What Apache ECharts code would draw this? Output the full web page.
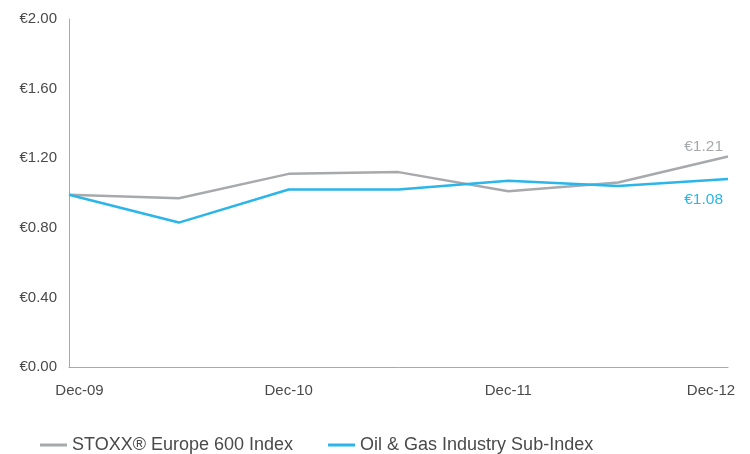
<!DOCTYPE html>
<html><head><meta charset="utf-8">
<script src="https://cdn.jsdelivr.net/npm/echarts@6/dist/echarts.min.js"></script>
<style>html,body{margin:0;padding:0;background:#fff}#c{width:750px;height:454px}</style>
</head><body><div id="c"></div>
<script>
var categories = ['Dec-09','Jun-10','Dec-10','Jun-11','Dec-11','Jun-12','Dec-12'];
var stoxx = [0.99, 0.97, 1.11, 1.12, 1.01, 1.06, 1.21];
var oilGas = [0.99, 0.83, 1.02, 1.02, 1.07, 1.04, 1.08];
var yTicks = [0, 0.4, 0.8, 1.2, 1.6, 2.0];
var seriesNames = ['STOXX\u00AE Europe 600 Index', 'Oil & Gas Industry Sub-Index'];
var grayC = '#a7a9ac', blueC = '#2bb5e8', textC = '#4a4a4a';
var font = 'Liberation Sans';

function lastLabel(arr, color, pos) {
  return arr.map(function (v, i) {
    if (i !== arr.length - 1) return v;
    return { value: v, label: { show: true, position: pos, formatter: '\u20AC' + v.toFixed(2), color: color, fontFamily: font, fontSize: 15.5, align: 'right', offset: pos === 'top' ? [-5, 3] : [-5, 8] } };
  });
}
var chart = echarts.init(document.getElementById('c'));
chart.setOption({
  animation: false,
  grid: { left: 69, right: 22, top: 19, bottom: 87 },
  legend: {
    left: 35, top: 431, itemWidth: 27, itemHeight: 3, itemGap: 35,
    icon: 'rect',
    textStyle: { fontFamily: font, fontSize: 18, color: textC },
    data: seriesNames
  },
  xAxis: {
    type: 'category', data: categories, boundaryGap: false,
    axisLine: { lineStyle: { color: grayC, width: 1 } },
    axisTick: { show: false },
    axisLabel: {
      interval: 1, margin: 16, color: textC, fontFamily: font, fontSize: 15,
      formatter: function (v, i) {
        if (i === 0) return '{f|' + v + '}';
        if (i === categories.length - 1) return '{l|' + v + '}';
        return v;
      },
      rich: {
        f: { padding: [0, 0, 0, 21], color: textC, fontFamily: font, fontSize: 15 },
        l: { padding: [0, 34, 0, 0], color: textC, fontFamily: font, fontSize: 15 }
      }
    },
    splitLine: { show: false }
  },
  yAxis: {
    type: 'value', min: yTicks[0], max: yTicks[yTicks.length - 1], interval: 0.4,
    axisLine: { show: true, lineStyle: { color: grayC, width: 1 } },
    axisTick: { show: false },
    splitLine: { show: false },
    axisLabel: { margin: 12, color: textC, fontFamily: font, fontSize: 15,
      formatter: function (v) { return '\u20AC' + v.toFixed(2); } }
  },
  series: [
    { name: seriesNames[0], type: 'line', data: lastLabel(stoxx, grayC, 'top'),
      symbol: 'circle', symbolSize: 0.01, showSymbol: true,
      lineStyle: { color: grayC, width: 2.5 }, itemStyle: { color: grayC } },
    { name: seriesNames[1], type: 'line', data: lastLabel(oilGas, blueC, 'bottom'),
      symbol: 'circle', symbolSize: 0.01, showSymbol: true,
      lineStyle: { color: blueC, width: 2.5 }, itemStyle: { color: blueC } }
  ]
});
</script></body></html>
